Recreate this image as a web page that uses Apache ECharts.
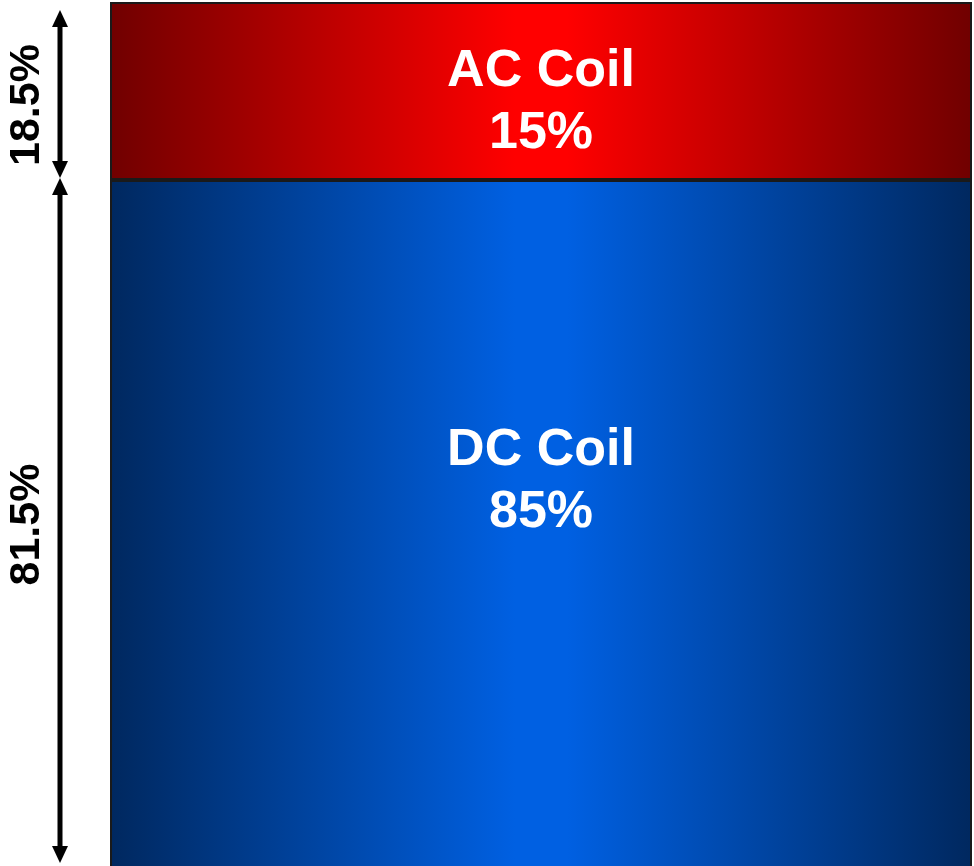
<!DOCTYPE html>
<html>
<head>
<meta charset="utf-8">
<script src="https://cdn.jsdelivr.net/npm/echarts@6/dist/echarts.min.js"></script>
<style>html,body{margin:0;padding:0;background:#fff}#c{width:974px;height:866px}</style>
</head>
<body>
<div id="c"></div>
<script>
// Data
var categories = ['Coil'];
var dcValues = [81.5];
var acValues = [18.5];
var dcLabel = ['DC Coil', '85%'];
var acLabel = ['AC Coil', '15%'];
// arrow annotations: [from, to, text]
var arrowSpans = [[81.5, 100, '18.5%'], [0, 81.5, '81.5%']];
// visible part of the value axis (the chart is cropped at the bottom)
var yMin = 10.2, yMax = 100;

var chart = echarts.init(document.getElementById('c'));

function hGrad(edge, mid) {
  return new echarts.graphic.LinearGradient(0, 0, 1, 0, [
    {offset: 0, color: edge}, {offset: 0.47, color: mid}, {offset: 0.53, color: mid}, {offset: 1, color: edge}
  ]);
}

var labelStyle = {
  show: true, position: 'inside', color: '#fff',
  fontFamily: 'Liberation Sans, Arial, sans-serif', fontWeight: 'bold',
  fontSize: 52, lineHeight: 62, align: 'center'
};

chart.setOption({
  animation: false,
  grid: {left: 110, right: 2, top: 2, bottom: 0, containLabel: false},
  xAxis: {type: 'category', data: categories, show: false},
  yAxis: {type: 'value', min: yMin, max: yMax, show: false},
  series: [
    {
      type: 'bar', stack: 'all', data: dcValues, barWidth: '100%', clip: false,
      itemStyle: {color: hGrad('#00285f', '#0060e2'), borderColor: '#1a1a1a', borderWidth: 2},
      label: Object.assign({}, labelStyle, {offset: [0, -90], formatter: function(){ return dcLabel.join('\n'); }})
    },
    {
      type: 'bar', stack: 'all', data: acValues, barWidth: '100%', clip: false,
      itemStyle: {color: hGrad('#700000', '#ff0000'), borderColor: '#1a1a1a', borderWidth: 2},
      label: Object.assign({}, labelStyle, {offset: [0, 12], formatter: function(){ return acLabel.join('\n'); }})
    },
    {
      type: 'custom', clip: false, silent: true, z: 10,
      data: arrowSpans,
      renderItem: function (params, api) {
        var x = 60;
        var H = api.getHeight();
        var yTop, yBot, dy;
        if (params.dataIndex === 0) {
          yTop = api.coord([0, api.value(1)])[1] + 8;
          yBot = api.coord([0, api.value(0)])[1] - 2;
          dy = 11;
        } else {
          yTop = api.coord([0, api.value(1)])[1] - 2;
          yBot = Math.min(api.coord([0, api.value(0)])[1], H - 3);
          dy = 4;
        }
        var hw = 8, hh = 17;
        var txt = arrowSpans[params.dataIndex][2];
        return {
          type: 'group',
          children: [
            {type: 'line', shape: {x1: x, y1: yTop + hh - 2, x2: x, y2: yBot - hh + 2}, style: {stroke: '#000', lineWidth: 5}},
            {type: 'polygon', shape: {points: [[x, yTop], [x - hw, yTop + hh], [x + hw, yTop + hh]]}, style: {fill: '#000'}},
            {type: 'polygon', shape: {points: [[x, yBot], [x - hw, yBot - hh], [x + hw, yBot - hh]]}, style: {fill: '#000'}},
            {type: 'text', x: 27, y: (yTop + yBot) / 2 + dy, rotation: Math.PI / 2,
             style: {text: txt, fill: '#000', font: 'bold 43px "Liberation Sans", Arial, sans-serif', align: 'center', verticalAlign: 'middle'}}
          ]
        };
      }
    }
  ]
});
</script>
</body>
</html>
